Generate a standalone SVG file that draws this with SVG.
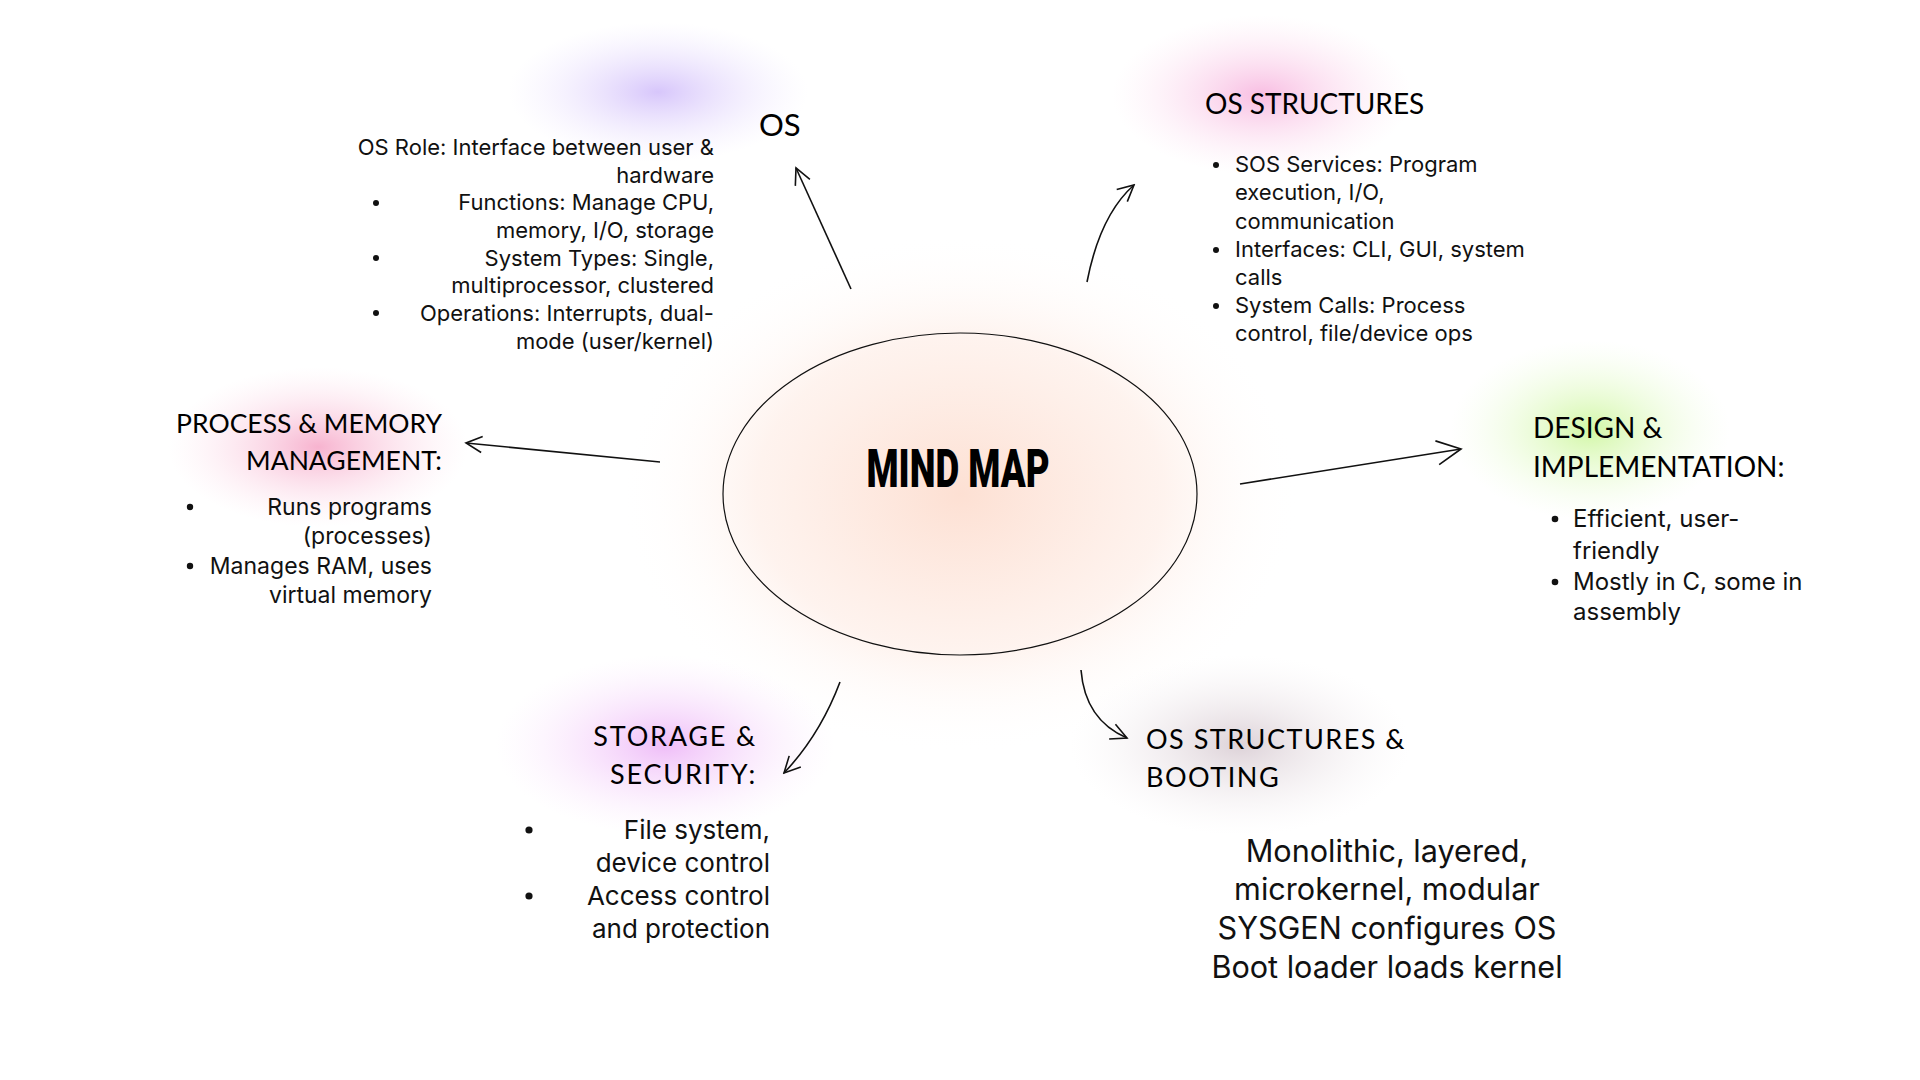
<svg xmlns="http://www.w3.org/2000/svg" width="1920" height="1080" viewBox="0 0 1920 1080">
<defs>
<style>
.body{font-family:Inter,"Noto Sans","Liberation Sans",sans-serif;fill:#111;}
.head{font-family:Lato,"Noto Sans","Liberation Sans",sans-serif;fill:#000;font-weight:400;}
.conn{fill:none;stroke:#111;stroke-width:1.6;}
.dot{fill:#111;}
</style>
<radialGradient id="gPurple"><stop offset="0" stop-color="#d7c6fb" stop-opacity="1"/><stop offset="1" stop-color="#efe8fe" stop-opacity="0"/></radialGradient>
<radialGradient id="gPink"><stop offset="0" stop-color="#f8bde2" stop-opacity="1"/><stop offset="1" stop-color="#fde6f3" stop-opacity="0"/></radialGradient>
<radialGradient id="gRose"><stop offset="0" stop-color="#f7b3cf" stop-opacity="1"/><stop offset="1" stop-color="#fde4ee" stop-opacity="0"/></radialGradient>
<radialGradient id="gGreen"><stop offset="0" stop-color="#d2f7a6" stop-opacity="1"/><stop offset="1" stop-color="#f0fde3" stop-opacity="0"/></radialGradient>
<radialGradient id="gViolet"><stop offset="0" stop-color="#efbdf8" stop-opacity="1"/><stop offset="1" stop-color="#fbe9fd" stop-opacity="0"/></radialGradient>
<radialGradient id="gGray"><stop offset="0" stop-color="#ddd2d8" stop-opacity="1"/><stop offset="1" stop-color="#f6f2f4" stop-opacity="0"/></radialGradient>
<radialGradient id="gPeach"><stop offset="0" stop-color="#fde0d3" stop-opacity="1"/><stop offset="0.6" stop-color="#fef0ea" stop-opacity="0.8"/><stop offset="1" stop-color="#ffffff" stop-opacity="0"/></radialGradient>
<marker id="arr" viewBox="0 0 20 20" refX="18" refY="10" markerWidth="20" markerHeight="20" markerUnits="userSpaceOnUse" orient="auto">
<path d="M2,2 L18,10 L2,18" fill="none" stroke="#111" stroke-width="1.6"/>
</marker>
<marker id="arrL" viewBox="0 0 20 20" refX="18" refY="10" markerWidth="30" markerHeight="30" markerUnits="userSpaceOnUse" orient="auto">
<path d="M2,2 L18,10 L2,18" fill="none" stroke="#111" stroke-width="1.1"/>
</marker>
</defs>
<rect width="1920" height="1080" fill="#ffffff"/>

<g id="glows">
<ellipse cx="960" cy="494" rx="340" ry="260" fill="url(#gPeach)"/>
<ellipse cx="658" cy="92" rx="150" ry="70" fill="url(#gPurple)"/>
<ellipse cx="1262" cy="95" rx="150" ry="80" fill="url(#gPink)"/>
<ellipse cx="318" cy="447" rx="150" ry="80" fill="url(#gRose)"/>
<ellipse cx="1590" cy="430" rx="140" ry="90" fill="url(#gGreen)"/>
<ellipse cx="665" cy="745" rx="170" ry="90" fill="url(#gViolet)"/>
<ellipse cx="1240" cy="745" rx="170" ry="90" fill="url(#gGray)"/>
</g>

<g id="center">
<ellipse cx="960" cy="494" rx="237" ry="161" fill="none" stroke="#111" stroke-width="1.2"/>
<text x="958" y="487" text-anchor="middle" font-family="Roboto,'Liberation Sans',sans-serif" font-weight="900" font-size="54" textLength="183" lengthAdjust="spacingAndGlyphs" fill="#000">MIND MAP</text>
</g>

<g id="node-os">
<text class="head" x="759" y="136" font-size="31">OS</text>
<g class="body" font-size="22" text-anchor="end">
<text x="714" y="155">OS Role: Interface between user &amp;</text>
<text x="714" y="183">hardware</text>
<text x="714" y="210">Functions: Manage CPU,</text>
<text x="714" y="238">memory, I/O, storage</text>
<text x="714" y="266">System Types: Single,</text>
<text x="714" y="293">multiprocessor, clustered</text>
<text x="714" y="321">Operations: Interrupts, dual-</text>
<text x="714" y="349">mode (user/kernel)</text>
</g>
<circle class="dot" cx="376" cy="203" r="3"/>
<circle class="dot" cx="376" cy="258" r="3"/>
<circle class="dot" cx="376" cy="313" r="3"/>
</g>

<g id="node-os-structures">
<text class="head" x="1205" y="114" font-size="28">OS STRUCTURES</text>
<g class="body" font-size="22">
<text x="1235" y="172">SOS Services: Program</text>
<text x="1235" y="200">execution, I/O,</text>
<text x="1235" y="229">communication</text>
<text x="1235" y="257">Interfaces: CLI, GUI, system</text>
<text x="1235" y="285">calls</text>
<text x="1235" y="313">System Calls: Process</text>
<text x="1235" y="341">control, file/device ops</text>
</g>
<circle class="dot" cx="1216" cy="165" r="3"/>
<circle class="dot" cx="1216" cy="250" r="3"/>
<circle class="dot" cx="1216" cy="306" r="3"/>
</g>

<g id="node-process">
<g class="head" font-size="26.5" text-anchor="end">
<text x="442" y="433">PROCESS &amp; MEMORY</text>
<text x="442" y="470">MANAGEMENT:</text>
</g>
<g class="body" font-size="23" text-anchor="end">
<text x="432" y="515">Runs programs</text>
<text x="432" y="544">(processes)</text>
<text x="432" y="574">Manages RAM, uses</text>
<text x="432" y="603">virtual memory</text>
</g>
<circle class="dot" cx="190" cy="507" r="3.2"/>
<circle class="dot" cx="190" cy="566" r="3.2"/>
</g>

<g id="node-design">
<g class="head" font-size="28">
<text x="1533" y="438">DESIGN &amp;</text>
<text x="1533" y="477">IMPLEMENTATION:</text>
</g>
<g class="body" font-size="24">
<text x="1573" y="527">Efficient, user-</text>
<text x="1573" y="559">friendly</text>
<text x="1573" y="590">Mostly in C, some in</text>
<text x="1573" y="620">assembly</text>
</g>
<circle class="dot" cx="1555" cy="519" r="3.3"/>
<circle class="dot" cx="1555" cy="582" r="3.3"/>
</g>

<g id="node-storage">
<g class="head" font-size="27" text-anchor="end" letter-spacing="1.8">
<text x="757" y="746">STORAGE &amp;</text>
<text x="757" y="784">SECURITY:</text>
</g>
<g class="body" font-size="26" text-anchor="end">
<text x="770" y="839">File system,</text>
<text x="770" y="872">device control</text>
<text x="770" y="905">Access control</text>
<text x="770" y="938">and protection</text>
</g>
<circle class="dot" cx="529" cy="830" r="3.6"/>
<circle class="dot" cx="529" cy="896" r="3.6"/>
</g>

<g id="node-booting">
<g class="head" font-size="27" letter-spacing="1.5">
<text x="1146" y="749">OS STRUCTURES &amp;</text>
<text x="1146" y="787">BOOTING</text>
</g>
<g class="body" font-size="30.6" text-anchor="middle">
<text x="1387" y="862">Monolithic, layered,</text>
<text x="1387" y="900">microkernel, modular</text>
<text x="1387" y="939">SYSGEN configures OS</text>
<text x="1387" y="978">Boot loader loads kernel</text>
</g>
</g>

<g id="connectors">
<path class="conn" d="M851,289 L796,168" marker-end="url(#arr)"/>
<path class="conn" d="M1087,282 Q1100,215 1134,185" marker-end="url(#arr)"/>
<path class="conn" d="M660,462 L466,443" marker-end="url(#arr)"/>
<path class="conn" d="M1240,484 L1461,449" marker-end="url(#arrL)"/>
<path class="conn" d="M840,682 Q820,735 784,773" marker-end="url(#arr)"/>
<path class="conn" d="M1081,670 Q1085,720 1127,738" marker-end="url(#arr)"/>
</g>
</svg>
